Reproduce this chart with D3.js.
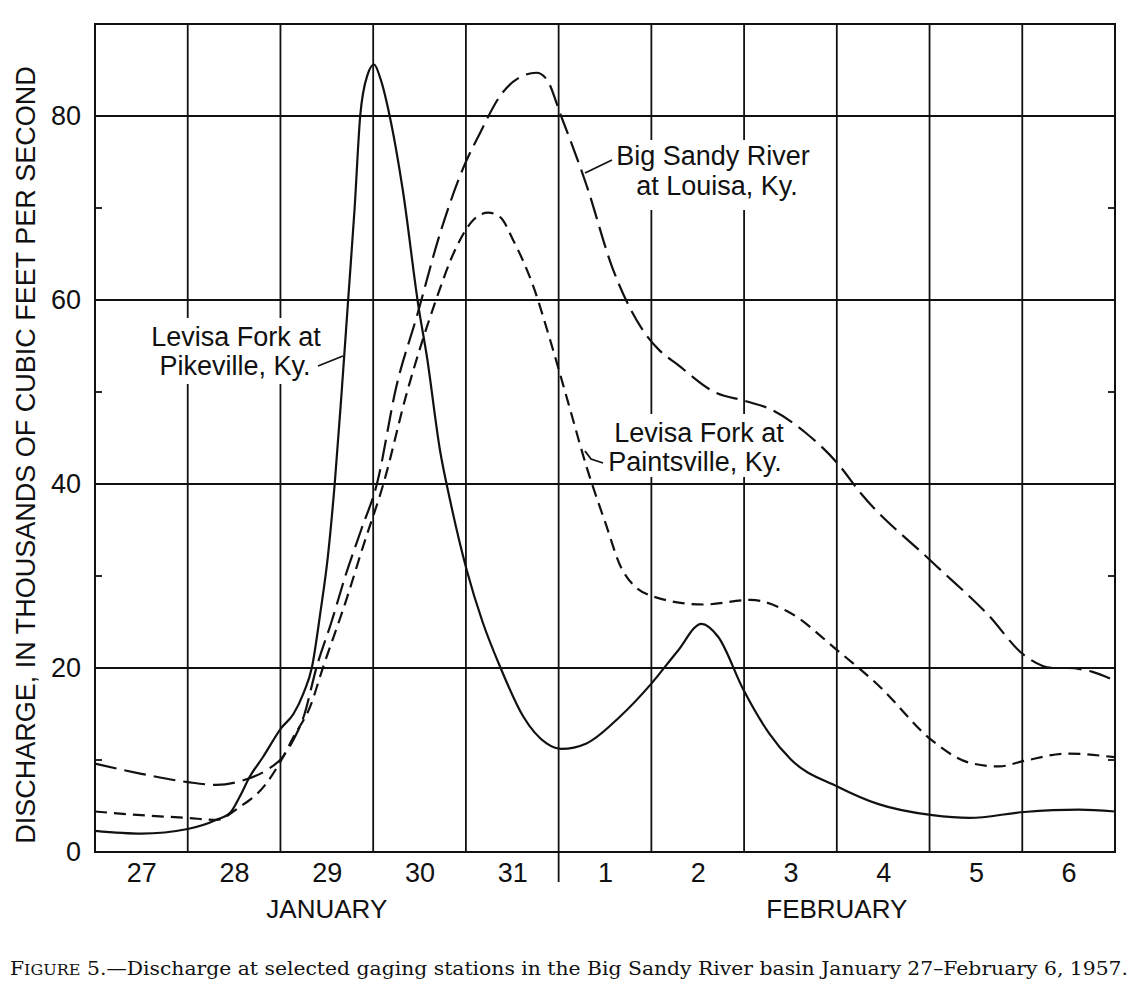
<!DOCTYPE html>
<html><head><meta charset="utf-8">
<script src="https://cdn.jsdelivr.net/npm/d3@7"></script>
<style>body{margin:0;background:#fff} svg{display:block}</style>
</head><body>
<svg id="c" width="1140" height="999"></svg>
<script>
// ---- data (days since Jan 27 00:00; discharge in thousands of cfs) ----
const dayLabels = ["27","28","29","30","31","1","2","3","4","5","6"];
const monthLabels = ["JANUARY","FEBRUARY"];
const monthCenters = [2.5, 8.0];
const yTicks = [0,20,40,60,80];
const yMinorTicks = [10,30,50,70];

const pikevilleDay = [0,0.5,1.0,1.31,1.46,1.56,1.67,1.81,2.01,2.14,2.25,2.34,2.43,2.51,2.585,2.66,2.73,2.80,2.86,2.94,3.01,3.08,3.18,3.32,3.49,3.58,3.72,3.83,4.01,4.18,4.37,4.62,4.87,5.03,5.30,5.66,6.0,6.28,6.54,6.72,6.99,7.27,7.50,8.01,8.45,9.03,9.43,10.02,10.61,11.0];
const pikevilleQ   = [2.3,2.0,2.5,3.5,4.3,6.0,8.2,10.3,13.5,15.0,17.3,20.1,26,32,40,50,60,70,80,84.5,85.6,84,79.9,71.9,59.2,53.8,43.7,38.2,30.6,25,20.1,14.7,11.8,11.2,11.8,14.7,18.3,21.8,24.8,23.4,17.7,12.9,10.1,7.1,5.2,4.0,3.7,4.35,4.6,4.4];

const louisaDay = [0,0.5,1.0,1.31,1.60,1.85,2.03,2.14,2.25,2.39,2.55,2.70,2.87,3.04,3.25,3.47,3.72,3.99,4.15,4.37,4.62,4.76,4.87,5.03,5.30,5.58,5.89,6.09,6.28,6.68,7.02,7.27,7.66,8.02,8.25,9.03,9.63,10.02,10.34,10.49,10.75,11.0];
const louisaQ   = [9.6,8.5,7.6,7.3,7.8,8.9,10.4,12.2,14.7,20.1,25,30,35,40,50.6,58.2,67.2,74.8,78.1,82.2,84.4,84.7,84.0,79.9,72.5,63.5,57,54.5,53,50,49,48.2,45.6,42.1,39.1,31.5,25.8,21.4,20.0,20.0,19.6,18.6];

const paintsvilleDay = [0,0.5,1.0,1.31,1.56,1.82,2.01,2.14,2.32,2.46,2.71,2.90,3.11,3.36,3.65,3.90,4.08,4.24,4.37,4.51,4.73,4.91,5.11,5.30,5.50,5.69,6.01,6.56,7.07,7.46,8.02,8.45,9.03,9.43,9.75,10.02,10.49,11.0];
const paintsvilleQ   = [4.4,4.0,3.7,3.5,4.9,7.1,10.0,12.5,15.8,20.1,27.4,33.5,40,49.8,59.2,65.8,68.7,69.5,69.0,66.5,61.4,55.6,48.6,41.9,35.9,30.6,27.8,26.9,27.4,26.2,21.8,18.1,12.1,9.7,9.3,9.9,10.7,10.3];

// ---- layout ----
const svg = d3.select("#c");
const L = 95, R = 1115, T = 24, B = 852;
const x = d3.scaleLinear().domain([0, 11]).range([L, R]);
const y = d3.scaleLinear().domain([0, 90]).range([B, T]);
const sans = "'Liberation Sans', Arial, sans-serif";
const ink = "#111";

// gridlines
const g = svg.append("g").attr("stroke", ink).attr("stroke-width", 1.8);
d3.range(1, 11).forEach(d => g.append("line").attr("x1", x(d)).attr("x2", x(d)).attr("y1", T).attr("y2", B));
yTicks.slice(1).forEach(v => g.append("line").attr("x1", L).attr("x2", R).attr("y1", y(v)).attr("y2", y(v)));
// minor ticks inside frame
yMinorTicks.forEach(v => {
  g.append("line").attr("x1", L).attr("x2", L + 7).attr("y1", y(v)).attr("y2", y(v));
  g.append("line").attr("x1", R - 7).attr("x2", R).attr("y1", y(v)).attr("y2", y(v));
});
// month boundary tick below axis
g.append("line").attr("x1", x(5)).attr("x2", x(5)).attr("y1", B).attr("y2", B + 30);
// frame
svg.append("rect").attr("x", L).attr("y", T).attr("width", R - L).attr("height", B - T)
  .attr("fill", "none").attr("stroke", ink).attr("stroke-width", 2);

// label background boxes (break gridlines)
const boxes = [[145,318,183,66],[606,140,212,70],[598,414,194,63]];
boxes.forEach(b => svg.append("rect").attr("x", b[0]).attr("y", b[1]).attr("width", b[2]).attr("height", b[3]).attr("fill", "#fff"));

// axes labels
const yAxis = d3.axisLeft(y).tickValues(yTicks).tickSize(0).tickPadding(14);
svg.append("g").attr("transform", `translate(${L},0)`).call(yAxis)
  .call(s => s.select(".domain").remove())
  .selectAll("text").attr("font-family", sans).attr("font-size", 27).attr("fill", ink);

const xAxis = d3.axisBottom(x).tickValues(d3.range(11).map(d => d + 0.5))
  .tickFormat((d, i) => dayLabels[i]).tickSize(0).tickPadding(11);
svg.append("g").attr("transform", `translate(0,${B})`).call(xAxis)
  .call(s => s.select(".domain").remove())
  .selectAll("text").attr("font-family", sans).attr("font-size", 27).attr("fill", ink);

svg.selectAll(".month").data(monthLabels).join("text")
  .attr("x", (d, i) => x(monthCenters[i])).attr("y", 918)
  .attr("text-anchor", "middle").attr("font-family", sans).attr("font-size", 26).attr("fill", ink)
  .text(d => d);

svg.append("text").attr("transform", "translate(35,455) rotate(-90)")
  .attr("text-anchor", "middle").attr("font-family", sans).attr("font-size", 27).attr("fill", ink)
  .text("DISCHARGE, IN THOUSANDS OF CUBIC FEET PER SECOND");

// curves
const line = d3.line().x(d => x(d[0])).y(d => y(d[1])).curve(d3.curveMonotoneX);
const series = [
  {day: pikevilleDay, q: pikevilleQ, dash: null},
  {day: louisaDay, q: louisaQ, dash: "22,8"},
  {day: paintsvilleDay, q: paintsvilleQ, dash: "12,7"}
];
series.forEach(s => {
  svg.append("path").datum(d3.zip(s.day, s.q)).attr("d", line)
    .attr("fill", "none").attr("stroke", ink).attr("stroke-width", 2.2)
    .attr("stroke-dasharray", s.dash);
});

// curve labels
const labels = [
  {lines: ["Levisa Fork at", "Pikeville, Ky."], xs: [236, 235], ys: [346, 375]},
  {lines: ["Big Sandy River", "at Louisa, Ky."], xs: [713, 717], ys: [165, 195]},
  {lines: ["Levisa Fork at", "Paintsville, Ky."], xs: [699, 695], ys: [442, 471]}
];
labels.forEach(lb => lb.lines.forEach((t, i) =>
  svg.append("text").attr("x", lb.xs[i]).attr("y", lb.ys[i]).attr("text-anchor", "middle")
    .attr("font-family", sans).attr("font-size", 27).attr("fill", ink).text(t)));
// leader lines
const leaders = [
  [[318,366],[343,356]],
  [[612,160],[585,173]],
  [[603,463],[591,459],[585,451]]
];
leaders.forEach(p => svg.append("path").attr("d", d3.line()(p)).attr("fill", "none")
  .attr("stroke", ink).attr("stroke-width", 1.8));

// caption
const cap = svg.append("text").attr("x", 10).attr("y", 975)
  .attr("font-family", "'DejaVu Serif', 'Liberation Serif', serif").attr("font-size", 19).attr("fill", ink)
  .attr("textLength", 1118).attr("lengthAdjust", "spacingAndGlyphs");
cap.append("tspan").text("F");
cap.append("tspan").attr("font-size", 15).text("IGURE");
cap.append("tspan").text(" 5.\u2014Discharge at selected gaging stations in the Big Sandy River basin January 27\u2013February 6, 1957.");
</script>
</body></html>
